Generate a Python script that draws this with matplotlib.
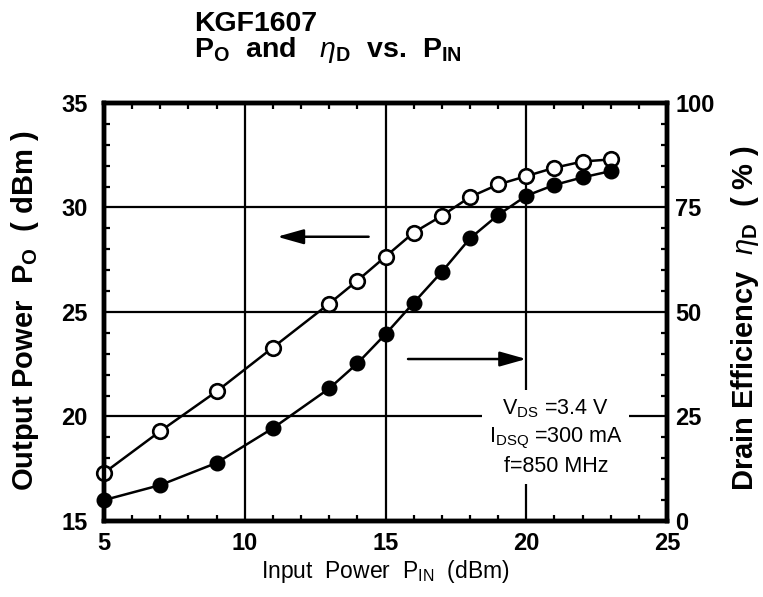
import matplotlib
matplotlib.use("Agg")
import matplotlib.pyplot as plt
from matplotlib.ticker import MultipleLocator

plt.rcParams['font.family'] = ['Liberation Sans', 'DejaVu Sans']
plt.rcParams['mathtext.fontset'] = 'custom'
plt.rcParams['mathtext.rm'] = 'Liberation Sans'
plt.rcParams['mathtext.bf'] = 'Liberation Sans:bold'
plt.rcParams['mathtext.it'] = 'Liberation Sans:italic'

# data
p_in = [5, 7, 9, 11, 13, 14, 15, 16, 17, 18, 19, 20, 21, 22, 23]
p_out = [17.3, 19.3, 21.2, 23.3, 25.4, 26.5, 27.65, 28.8, 29.6, 30.5, 31.1, 31.5, 31.9, 32.2, 32.3]
eff = [5.0, 8.6, 13.9, 22.2, 31.7, 37.7, 44.7, 52.2, 59.6, 67.6, 73.2, 77.8, 80.4, 82.2, 83.7]

x_ticks = [5, 10, 15, 20, 25]
y_ticks = [15, 20, 25, 30, 35]
y2_ticks = [0, 25, 50, 75, 100]

# arrows (left axis units): which curve belongs to which axis
arrow_po = ((14.4, 28.6), (11.15, 28.6))
arrow_eff = ((15.8, 22.75), (20.0, 22.75))

fig = plt.figure(figsize=(7.63, 5.97), dpi=100)
ax = fig.add_axes([0.1363, 0.1273, 0.7379, 0.7002])
ax2 = ax.twinx()

ax.plot(p_in, p_out, '-o', color='black', lw=1.8, ms=10.5, mfc='white', mec='black', mew=1.9,
        clip_on=False, zorder=3)
ax2.plot(p_in, eff, '-o', color='black', lw=1.8, ms=10.5, mfc='black', mec='black', mew=1.0,
         clip_on=False, zorder=3)

ax.set_xlim(5, 25)
ax.set_ylim(15, 35)
ax2.set_ylim(0, 100)

ax.set_xticks(x_ticks)
ax.set_yticks(y_ticks)
ax2.set_yticks(y2_ticks)
ax.xaxis.set_minor_locator(MultipleLocator(1))
ax.yaxis.set_minor_locator(MultipleLocator(1))
ax2.yaxis.set_minor_locator(MultipleLocator(5))

ax.grid(True, which='major', color='black', lw=1.6)
ax.set_axisbelow(True)

ax.tick_params(axis='x', which='both', direction='in', top=True, bottom=True)
ax.tick_params(axis='y', which='both', direction='in', left=True, right=False)
ax.tick_params(which='major', length=0)
ax.tick_params(which='minor', length=4.5, width=1.6)
ax.tick_params(axis='x', which='major', pad=8, labelsize=17)
ax.tick_params(axis='y', which='major', pad=12, labelsize=17)
ax2.tick_params(axis='y', which='both', direction='in')
ax2.tick_params(which='major', length=0, pad=6, labelsize=17)
ax2.tick_params(which='minor', length=4.5, width=1.6)
for lab in ax.get_xticklabels() + ax.get_yticklabels() + ax2.get_yticklabels():
    lab.set_fontweight('bold')

for a in (ax, ax2):
    for s in a.spines.values():
        s.set_linewidth(3.2)

ax.set_xlabel(r'Input  Power  P$_{\rm IN}$  (dBm)', fontsize=16.5, labelpad=2)
fig.text(0.033, 0.48, r'Output Power  P$_{\mathbf{O}}$  ( dBm )', rotation=90,
         fontsize=21, fontweight='bold', ha='center', va='center')
fig.text(0.976, 0.467, r'Drain Efficiency  $\eta_{\mathbf{D}}$  ( % )', rotation=90,
         fontsize=21, fontweight='bold', ha='center', va='center')

fig.text(0.254, 0.948, 'KGF1607', fontsize=20.5, fontweight='bold', ha='left', va='baseline')
fig.text(0.254, 0.904, r'P$_{\mathbf{O}}$  and   $\eta_{\mathbf{D}}$  vs.  P$_{\mathbf{IN}}$',
         fontsize=20.5, fontweight='bold', ha='left', va='baseline')

for (x0, y0), (x1, y1) in (arrow_po, arrow_eff):
    ax.annotate('', xy=(x1, y1), xytext=(x0, y0),
                arrowprops=dict(arrowstyle='-|>,head_length=1.6,head_width=0.45',
                                mutation_scale=10, color='black', lw=1.8,
                                shrinkA=0, shrinkB=0))

ax2.text(21.05, 19.0, 'V$_{\\rm DS}$ =3.4 V\nI$_{\\rm DSQ}$ =300 mA\nf=850 MHz',
         transform=ax.transData, fontsize=15.5, ha='center', va='center',
         multialignment='center', linespacing=1.35,
         bbox=dict(boxstyle='square,pad=0.3', fc='white', ec='none'))

fig.savefig('out.png', dpi=100)
